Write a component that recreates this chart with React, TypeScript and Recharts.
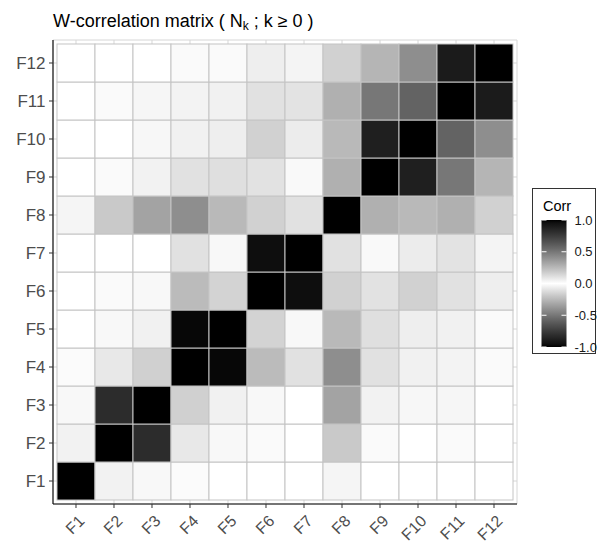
import React from 'react';
import { ScatterChart, Scatter, XAxis, YAxis, CartesianGrid } from 'recharts';

// ---- data ----
const LABELS = ['F1', 'F2', 'F3', 'F4', 'F5', 'F6', 'F7', 'F8', 'F9', 'F10', 'F11', 'F12'];
const TICKS = [1, 2, 3, 4, 5, 6, 7, 8, 9, 10, 11, 12];

const corrF1 = [1, 0.045, 0.025, 0.015, 0, 0, 0, 0.035, 0, 0, 0, 0];
const corrF2 = [0.045, 1, 0.82, 0.08, 0.025, 0.018, 0, 0.19, 0.018, 0, 0.018, 0];
const corrF3 = [0.025, 0.82, 1, 0.165, 0.05, 0.025, 0, 0.33, 0.045, 0.028, 0.03, 0];
const corrF4 = [0.015, 0.08, 0.165, 1, 0.98, 0.24, 0.105, 0.41, 0.105, 0.048, 0.042, 0.018];
const corrF5 = [0, 0.025, 0.05, 0.98, 1, 0.155, 0.025, 0.25, 0.11, 0.058, 0.05, 0.018];
const corrF6 = [0, 0.018, 0.025, 0.24, 0.155, 1, 0.96, 0.16, 0.1, 0.16, 0.105, 0.058];
const corrF7 = [0, 0, 0, 0.105, 0.025, 0.96, 1, 0.105, 0.02, 0.065, 0.098, 0.038];
const corrF8 = [0.035, 0.19, 0.33, 0.41, 0.25, 0.16, 0.105, 1, 0.28, 0.25, 0.28, 0.16];
const corrF9 = [0, 0.018, 0.045, 0.105, 0.11, 0.1, 0.02, 0.28, 1, 0.88, 0.5, 0.265];
const corrF10 = [0, 0, 0.028, 0.048, 0.058, 0.16, 0.065, 0.25, 0.88, 1, 0.58, 0.41];
const corrF11 = [0, 0.018, 0.03, 0.042, 0.05, 0.105, 0.098, 0.28, 0.5, 0.58, 1, 0.9];
const corrF12 = [0, 0, 0, 0.018, 0.018, 0.058, 0.038, 0.16, 0.265, 0.41, 0.9, 1];

const CORR_ROWS = [corrF1, corrF2, corrF3, corrF4, corrF5, corrF6, corrF7, corrF8, corrF9, corrF10, corrF11, corrF12];

const LEGEND_VALUES = [1, 0.5, 0, -0.5, -1];
const LEGEND_LABELS = ['1.0', '0.5', '0.0', '-0.5', '-1.0'];

// ---- layout ----
const W = 597;
const H = 543;
const PLOT_W = 464;
const DOMAIN: [number, number] = [0.395, 12.605];
const CELL = PLOT_W / (DOMAIN[1] - DOMAIN[0]);
const FONT = '"Liberation Sans", Arial, Helvetica, sans-serif';

function grey(v: number): string {
  const a = Math.min(1, Math.abs(v));
  const L = 100 * (1 - a);
  const fy = (L + 16) / 116;
  const Y = L > 8 ? fy * fy * fy : L / 903.3;
  const c = Y <= 0.0031308 ? 12.92 * Y : 1.055 * Math.pow(Y, 1 / 2.4) - 0.055;
  const g = Math.max(0, Math.min(255, Math.round(c * 255)));
  return `rgb(${g},${g},${g})`;
}

const cells = CORR_ROWS.flatMap((row, i) => row.map((v, j) => ({ x: j + 1, y: i + 1, v })));

const Tile = (props: any) => {
  const { cx, cy, payload } = props;
  if (cx == null || cy == null) return null;
  return (
    <rect
      x={cx - CELL / 2}
      y={cy - CELL / 2}
      width={CELL}
      height={CELL}
      fill={grey(payload.v)}
      stroke="#c4c4c4"
      strokeWidth={1}
    />
  );
};

const XTick = (props: any) => {
  const { x, y, payload } = props;
  const ax = x + 9.5;
  const ay = y + 12;
  return (
    <text
      x={ax}
      y={ay}
      transform={`rotate(-45 ${ax} ${ay})`}
      textAnchor="end"
      fill="#4d4d4d"
      fontSize={16}
      fontFamily={FONT}
    >
      {LABELS[payload.value - 1]}
    </text>
  );
};

const BAR_X = 541.5;
const BAR_W = 25;
const BAR_TOP = 220;
const BAR_BOT = 347;

export default function App() {
  const stops = [];
  for (let k = 0; k <= 40; k++) {
    const v = 1 - (2 * k) / 40;
    stops.push(<stop key={k} offset={`${(k / 40) * 100}%`} stopColor={grey(v)} />);
  }
  const vy = (v: number) => BAR_TOP + ((1 - v) / 2) * (BAR_BOT - BAR_TOP);
  return (
    <div style={{ position: 'absolute', left: 0, top: 0, width: W, height: H, background: '#fff' }}>
      <ScatterChart
        width={W}
        height={H}
        margin={{ top: 40, right: 80, bottom: 0, left: 23 }}
      >
        <CartesianGrid stroke="#d6d6d6" strokeWidth={1} />
        <XAxis
          type="number"
          dataKey="x"
          domain={DOMAIN}
          ticks={TICKS}
          interval={0}
          allowDataOverflow
          height={39}
          tickSize={4}
          tickLine={{ stroke: '#333', strokeWidth: 1 }}
          axisLine={{ stroke: '#000', strokeWidth: 1.1 }}
          tick={<XTick />}
        />
        <YAxis
          type="number"
          dataKey="y"
          domain={DOMAIN}
          ticks={TICKS}
          interval={0}
          allowDataOverflow
          width={30}
          tickSize={4}
          tickMargin={3.5}
          tickLine={{ stroke: '#333', strokeWidth: 1 }}
          axisLine={{ stroke: '#000', strokeWidth: 1.1 }}
          tickFormatter={(v: number) => LABELS[v - 1]}
          tick={{ fill: '#4d4d4d', fontSize: 17, fontFamily: FONT }}
        />
        <Scatter data={cells} shape={<Tile />} isAnimationActive={false} />
      </ScatterChart>
      <svg
        width={W}
        height={H}
        style={{ position: 'absolute', left: 0, top: 0, pointerEvents: 'none' }}
      >
        <defs>
          <linearGradient id="corrGrad" x1="0" y1="0" x2="0" y2="1">
            {stops}
          </linearGradient>
        </defs>
        <text x={53} y={27} fontSize={18} fontFamily={FONT} fill="#000">
          W-correlation matrix ( N
          <tspan fontSize={12} dy={2.5}>k</tspan>
          <tspan dy={-2.5}> ; k ≥ 0 )</tspan>
        </text>
        <rect x={532.5} y={188.5} width={63} height={165} fill="#fff" stroke="#333" strokeWidth={1} />
        <text x={543} y={210.5} fontSize={14.5} fontFamily={FONT} fill="#000">
          Corr
        </text>
        <rect x={BAR_X} y={BAR_TOP} width={BAR_W} height={BAR_BOT - BAR_TOP} fill="url(#corrGrad)" />
        {LEGEND_VALUES.map((v, i) => (
          <g key={i}>
            <line x1={BAR_X} x2={BAR_X + 5} y1={vy(v)} y2={vy(v)} stroke="#fff" strokeWidth={1} />
            <line x1={BAR_X + BAR_W - 5} x2={BAR_X + BAR_W} y1={vy(v)} y2={vy(v)} stroke="#fff" strokeWidth={1} />
            <text
              x={574.5}
              y={vy(v)}
              dy="0.35em"
              fontSize={13}
              fontFamily={FONT}
              fill="#1a1a1a"
            >
              {LEGEND_LABELS[i]}
            </text>
          </g>
        ))}
      </svg>
    </div>
  );
}
